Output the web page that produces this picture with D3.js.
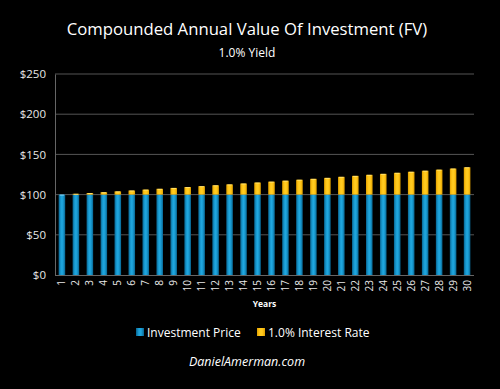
<!DOCTYPE html>
<html><head><meta charset="utf-8">
<script src="https://cdn.jsdelivr.net/npm/d3@7"></script>
<style>body{margin:0;background:#000;}svg{display:block;}</style>
</head><body>
<script>
const years = d3.range(1, 31).map(String);
const investmentPrice = [100,100,100,100,100,100,100,100,100,100,100,100,100,100,100,100,100,100,100,100,100,100,100,100,100,100,100,100,100,100];
const interestRate = [0,1,2,3,4,5.1,6.2,7.2,8.3,9.4,10.5,11.6,12.7,13.8,15,16.1,17.3,18.5,19.6,20.8,22.1,23.3,24.6,25.8,27.1,28.4,29.7,31,32.4,34];
const yTicks = [0,50,100,150,200,250];
const seriesNames = ["Investment Price","1.0% Interest Rate"];

const W = 500, H = 389;
const m = {left:55, right:26, top:74, bottom:114};
const svg = d3.select("body").append("svg").attr("width",W).attr("height",H).style("background","#000");
const defs = svg.append("defs");
function grad(id, stops){
  const g = defs.append("linearGradient").attr("id",id).attr("x1","0").attr("x2","1").attr("y1","0").attr("y2","0");
  stops.forEach(s=>g.append("stop").attr("offset",s[0]).attr("stop-color",s[1]));
}
grad("gBlue",[[0,"#08648f"],[0.3,"#1898cf"],[0.5,"#20a8e0"],[0.7,"#1898cf"],[1,"#08648f"]]);
grad("gYel",[[0,"#e0a000"],[0.3,"#ffc417"],[0.5,"#ffcc22"],[0.7,"#ffc417"],[1,"#e0a000"]]);

const x = d3.scaleBand().domain(years).range([m.left, W-m.right]).paddingInner(0.53).paddingOuter(0.26);
const y = d3.scaleLinear().domain([0,250]).range([H-m.bottom, m.top]);

svg.append("g").selectAll("line").data(yTicks.filter(d=>d>0)).join("line")
  .attr("x1",m.left).attr("x2",W-m.right).attr("y1",d=>y(d)).attr("y2",d=>y(d))
  .attr("stroke","#555").attr("stroke-width",1);

const yAxis = svg.append("g").attr("transform",`translate(${m.left},0)`)
  .call(d3.axisLeft(y).tickValues(yTicks).tickFormat(d=>"$"+d).tickSize(0).tickPadding(9));
yAxis.select(".domain").attr("stroke","#666");
yAxis.selectAll("text").attr("fill","#e8e8e8").style("font-family","'Open Sans',sans-serif").style("font-size","11.5px");

const stack = years.map((yr,i)=>({yr, a:investmentPrice[i], b:interestRate[i]}));
const g = svg.append("g");
g.selectAll("rect.blue").data(stack).join("rect").attr("class","blue")
  .attr("x",d=>x(d.yr)).attr("width",x.bandwidth())
  .attr("y",d=>y(d.a)).attr("height",d=>y(0)-y(d.a)).attr("fill","url(#gBlue)");
g.selectAll("rect.yel").data(stack.filter(d=>d.b>0)).join("rect").attr("class","yel")
  .attr("x",d=>x(d.yr)).attr("width",x.bandwidth())
  .attr("y",d=>y(d.a+d.b)).attr("height",d=>y(d.a)-y(d.a+d.b)).attr("fill","url(#gYel)");
g.selectAll("rect.cap").data(stack).join("rect").attr("class","cap")
  .attr("x",d=>x(d.yr)+1).attr("width",x.bandwidth()-2)
  .attr("y",d=>y(d.a+d.b)).attr("height",1)
  .attr("fill",d=>d.b>0?"#ffe680":"#8fdcff").attr("opacity",0.8);

const xAxis = svg.append("g").attr("transform",`translate(0,${y(0)})`)
  .call(d3.axisBottom(x).tickSize(0).tickPadding(0));
xAxis.select(".domain").attr("stroke","#666").attr("d",`M${m.left},0.5H${W-m.right}`);
xAxis.selectAll("text").attr("fill","#e8e8e8").style("font-family","'Open Sans',sans-serif").style("font-size","10px")
  .attr("transform","rotate(-90)").attr("text-anchor","end").attr("dy","0.35em").attr("x",-5).attr("y",0);

svg.append("text").attr("x",247).attr("y",35).attr("text-anchor","middle").attr("fill","#fff")
  .style("font-family","'Open Sans',sans-serif").style("font-size","16.7px").text("Compounded Annual Value Of Investment (FV)");
svg.append("text").attr("x",247).attr("y",57).attr("text-anchor","middle").attr("fill","#fff")
  .style("font-family","'Open Sans',sans-serif").style("font-size","12px").text("1.0% Yield");
svg.append("text").attr("x",(m.left+W-m.right)/2).attr("y",307).attr("text-anchor","middle").attr("fill","#fff")
  .style("font-family","'Open Sans',sans-serif").style("font-size","8.5px").style("font-weight","bold").text("Years");

const leg = [{name:seriesNames[0],fill:"url(#gBlue)",x:136},{name:seriesNames[1],fill:"url(#gYel)",x:257}];
const lg = svg.append("g");
lg.selectAll("rect").data(leg).join("rect").attr("x",d=>d.x).attr("y",328).attr("width",8).attr("height",8).attr("fill",d=>d.fill);
lg.selectAll("text").data(leg).join("text").attr("x",d=>d.x+11).attr("y",336.5).attr("fill","#fff")
  .style("font-family","'Open Sans',sans-serif").style("font-size","12px").text(d=>d.name);

svg.append("text").attr("x",247).attr("y",366).attr("text-anchor","middle").attr("fill","#fff")
  .style("font-family","'Open Sans',sans-serif").style("font-size","12.5px").style("font-style","italic").text("DanielAmerman.com");
</script>
</body></html>
